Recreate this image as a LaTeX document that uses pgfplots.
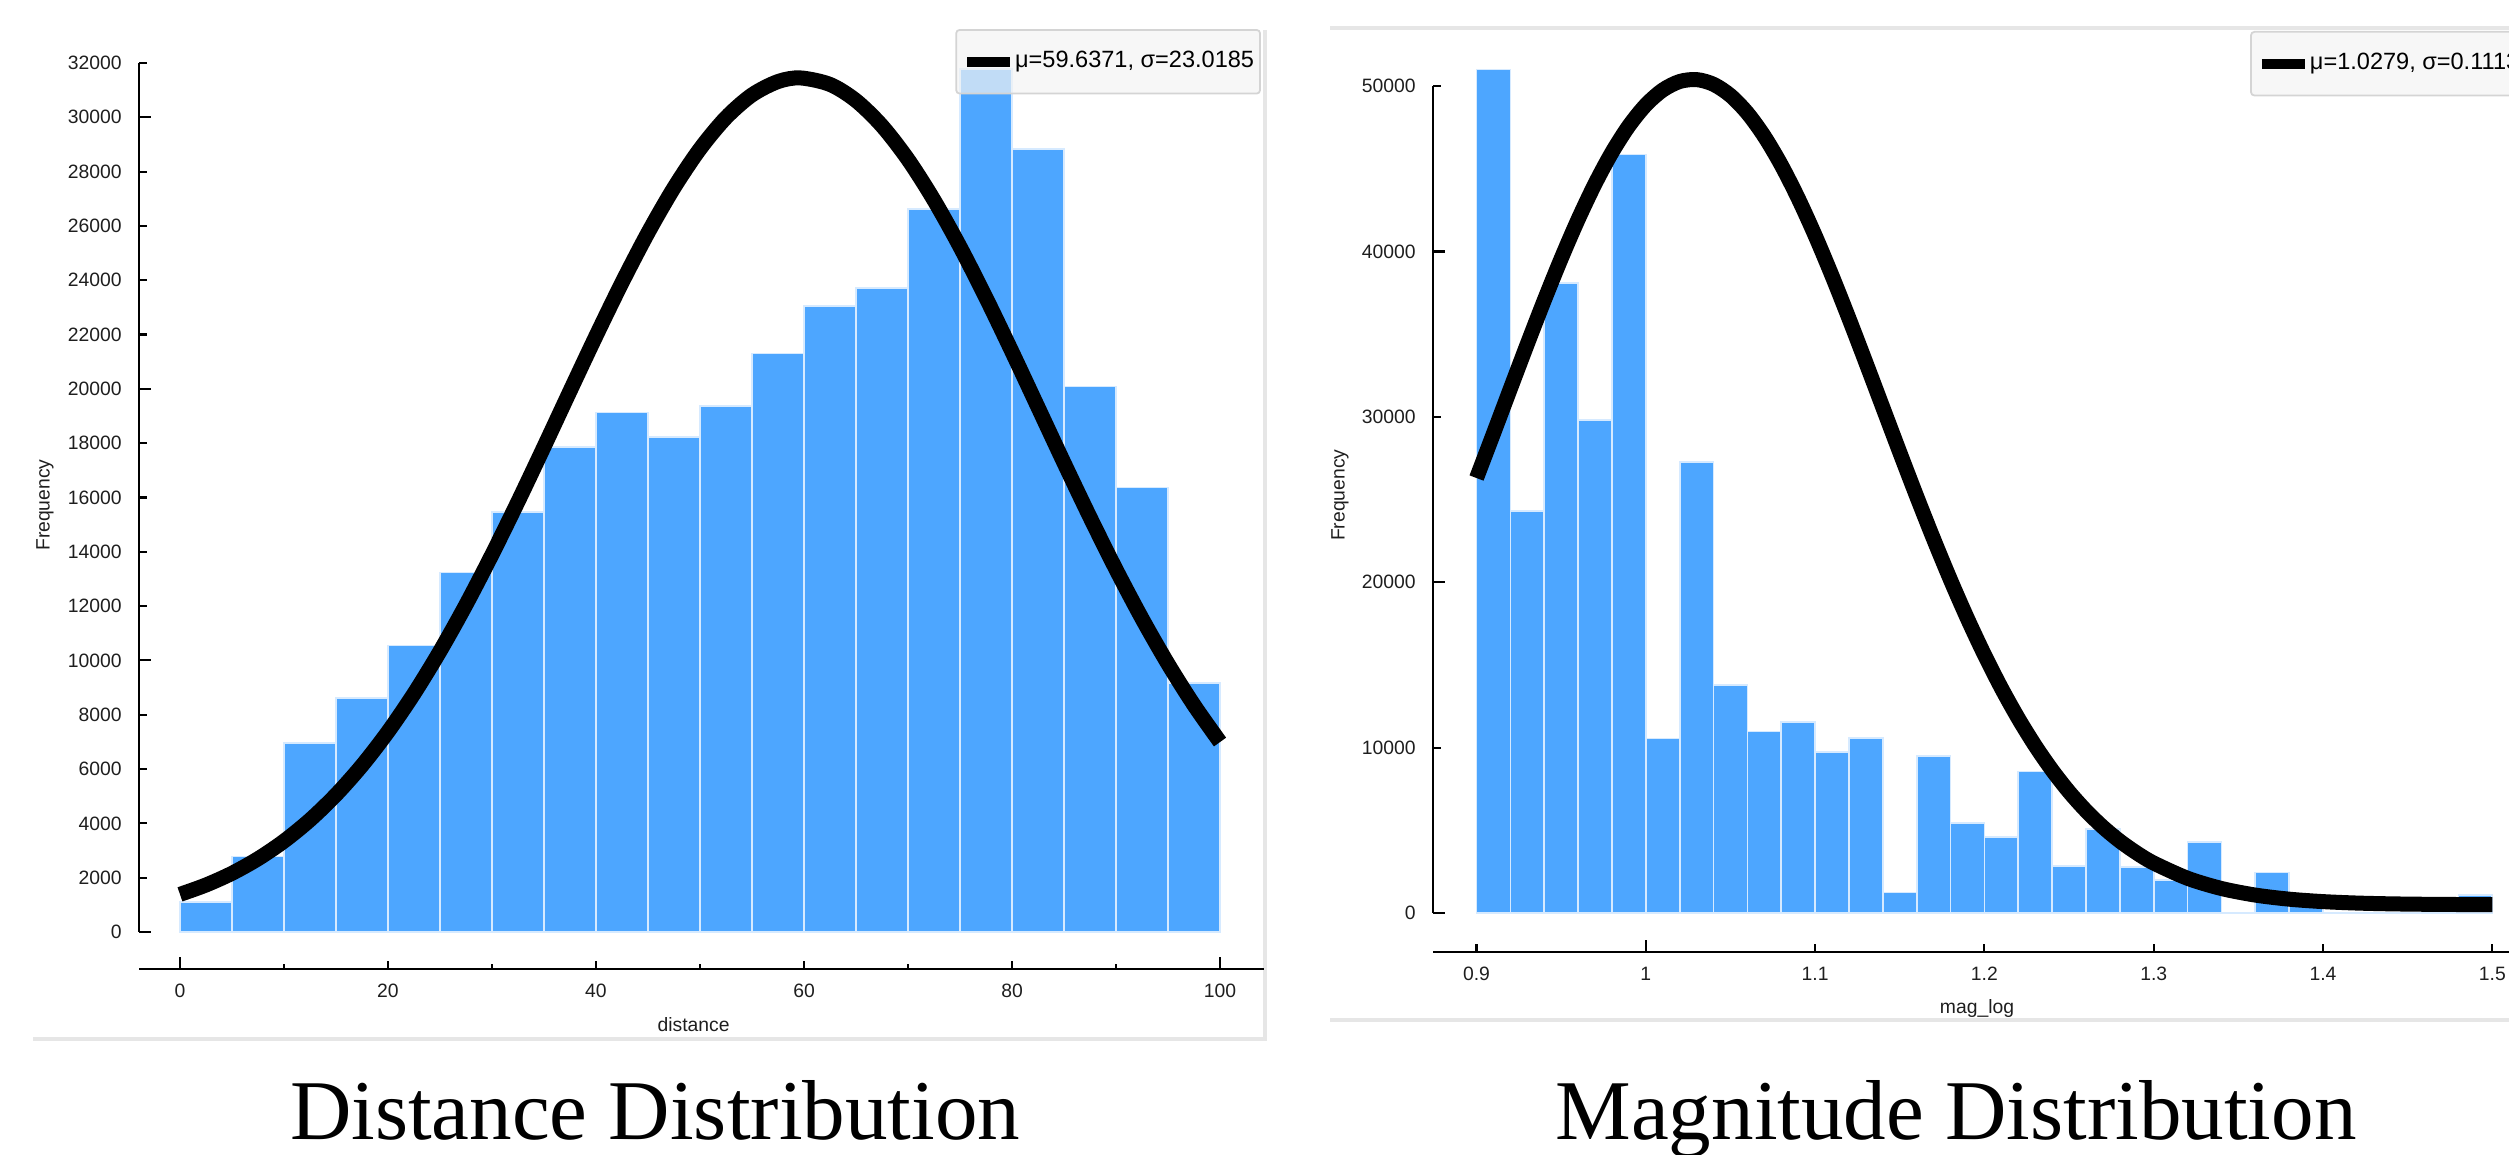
\documentclass[border=0pt]{standalone}
\usepackage{pgfplots}
\pgfplotsset{compat=1.18}
\usepackage{fontspec}
\setmainfont{Liberation Sans}
\newfontfamily\capfont{Liberation Serif}
\definecolor{barblue}{HTML}{4DA6FF}
\definecolor{baredge}{HTML}{D6EAFF}
\definecolor{framegray}{HTML}{E6E6E6}
\definecolor{legfill}{HTML}{F3F3F3}
\definecolor{legdraw}{HTML}{D4D4D4}
\definecolor{ticktext}{HTML}{1E1E1E}
\pgfplotsset{
  qtstyle/.style={
    scale only axis,
    axis x line*=bottom, axis y line*=left,
    x axis line style={-, line width=0.6pt},
    y axis line style={-, line width=0.6pt},
    tick align=inside,
    tick style={black, line width=0.6pt},
    major tick length=0.08cm, minor tick length=0.045cm,
    extra tick style={major tick length=0.12cm},
    scaled ticks=false,
    /pgf/number format/assume math mode=true,
    /pgf/number format/1000 sep={},
    ticklabel style={font=\fontsize{5.5}{6.5}\selectfont, text=ticktext},
    yticklabel style={xshift=-0.05cm},
    xticklabel style={yshift=-0.03cm},
    legend cell align=left,
    legend image code/.code={\draw[line width=0.1cm, black] (0cm,0cm) -- (0.43cm,0cm);},
    legend style={fill=legfill, fill opacity=0.7, text opacity=1, draw=legdraw, draw opacity=1,
      line width=0.5pt, rounded corners=1pt, inner xsep=0.06cm, inner ysep=0.21cm,
      nodes={inner sep=0pt},
      font=\fontsize{6.7}{8}\selectfont, /tikz/every even column/.style={column sep=0pt}},
  }
}
\begin{document}
\begin{tikzpicture}
\useasboundingbox (0,0) rectangle (25.09,11.55);
% panel frames
\draw[framegray, line width=0.035cm] (0.33,1.16) -- (12.65,1.16) -- (12.65,11.25);
\draw[framegray, line width=0.035cm] (13.30,11.27) -- (25.20,11.27);
\draw[framegray, line width=0.035cm] (13.30,1.35) -- (25.20,1.35);

\begin{axis}[qtstyle, at={(1.39cm,1.86cm)}, anchor=south west,
  width=11.25cm, height=9.06cm,
  xmin=-3.94, xmax=104.23, ymin=-1362, ymax=32000,
  xtick={0,20,...,100}, minor xtick={10,30,...,90},
  ytick={0,2000,...,32000},
  extra x ticks={0,100}, extra x tick labels={},
  extra y ticks={0,10000,20000,30000}, extra y tick labels={},
  y axis line style={shorten <=0.37cm},
  xlabel={distance}, ylabel={Frequency},
  every axis x label/.style={at={(axis description cs:0.493,-0.0618)}, anchor=center, font=\fontsize{5.5}{6.5}\selectfont, text=ticktext},
  every axis y label/.style={at={(axis description cs:-0.0836,0.512)}, rotate=90, anchor=center, font=\fontsize{5.5}{6.5}\selectfont, text=ticktext},
  legend style={at={(0.9973,1.0375)}, anchor=north east},
]
\addplot[ybar interval, fill=barblue, draw=baredge, line width=0.5pt, forget plot] coordinates {
  (0,1114) (5,2778) (10,6946) (15,8611) (20,10550) (25,13237) (30,15465) (35,17850)
  (40,19130) (45,18220) (50,19374) (55,21300) (60,23043) (65,23706) (70,26613)
  (75,31780) (80,28834) (85,20086) (90,16368) (95,9174) (100,9174)};
\addplot[smooth, black, line width=0.15cm] coordinates {
  (0,1386) (2.5,1731) (5,2162) (7.5,2696) (10,3346) (12.5,4127) (15,5053) (17.5,6132)
  (20,7373) (22.5,8777) (25,10341) (27.5,12053) (30,13899) (32.5,15847) (35,17866)
  (37.5,19917) (40,21948) (42.5,23911) (45,25748) (47.5,27407) (50,28836) (52.5,29988)
  (55,30824) (57.5,31316) (59.64,31450) (62.5,31210) (65,30616) (67.5,29684) (70,28448)
  (72.5,26947) (75,25231) (77.5,23351) (80,21364) (82.5,19321) (85,17275) (87.5,15273)
  (90,13351) (92.5,11542) (95,9871) (97.5,8353) (100,6995)};
\addlegendentry{μ=59.6371, σ=23.0185\hspace{0.16cm}}
\end{axis}

\begin{axis}[qtstyle, at={(14.33cm,2.03cm)}, anchor=south west,
  width=11.016cm, height=8.99cm,
  xmin=0.8743, xmax=1.525, ymin=-2358, ymax=52000,
  xtick={0.9,1,1.1,1.2,1.3,1.4,1.5},
  ytick={0,10000,...,50000},
  extra x ticks={1}, extra x tick labels={},
  extra y ticks={0,20000,40000}, extra y tick labels={},
  y axis line style={shorten <=0.39cm, shorten >=0.33cm},
  xlabel={mag\_log}, ylabel={Frequency},
  every axis x label/.style={at={(axis description cs:0.4938,-0.0623)}, anchor=center, font=\fontsize{5.5}{6.5}\selectfont, text=ticktext},
  every axis y label/.style={at={(axis description cs:-0.0844,0.508)}, rotate=90, anchor=center, font=\fontsize{5.5}{6.5}\selectfont, text=ticktext},
  legend style={at={(0.7417,1.0245)}, anchor=north west},
]
\addplot[ybar interval, fill=barblue, draw=baredge, line width=0.5pt, forget plot] coordinates {
  (0.90,51000) (0.92,24300) (0.94,38070) (0.96,29800) (0.98,45860) (1.00,10550)
  (1.02,27250) (1.04,13800) (1.06,10970) (1.08,11540) (1.10,9720) (1.12,10570)
  (1.14,1240) (1.16,9510) (1.18,5440) (1.20,4600) (1.22,8560) (1.24,2860)
  (1.26,5100) (1.28,2800) (1.30,2000) (1.32,4300) (1.34,0) (1.36,2450)
  (1.38,500) (1.40,0) (1.42,0) (1.44,0) (1.46,0) (1.48,1100) (1.50,1100)};
\addplot[smooth, black, line width=0.15cm] coordinates {
  (0.90,26300) (0.91,28988) (0.92,31704) (0.93,34403) (0.94,37041) (0.95,39568)
  (0.96,41934) (0.97,44090) (0.98,45990) (0.99,47592) (1.00,48858) (1.01,49759)
  (1.02,50275) (1.03,50391) (1.04,50106) (1.05,49427) (1.06,48369) (1.07,46958)
  (1.08,45226) (1.09,43213) (1.10,40963) (1.11,38525) (1.12,35944) (1.13,33274)
  (1.14,30563) (1.15,27853) (1.16,25188) (1.17,22605) (1.18,20131) (1.19,17795)
  (1.20,15615) (1.21,13603) (1.22,11768) (1.23,10112) (1.24,8634) (1.25,7327)
  (1.26,6185) (1.27,5195) (1.28,4347) (1.29,3627) (1.30,3020) (1.32,2099) (1.34,1482)
  (1.36,1084) (1.38,836) (1.40,688) (1.42,601) (1.44,553) (1.46,527) (1.48,513) (1.50,506)};
\addlegendentry{μ=1.0279, σ=0.11135\hspace{0.16cm}}
\end{axis}

\node[font=\capfont\fontsize{24.2}{28}\selectfont, anchor=base] at (6.55,0.15) {Distance Distribution};
\node[font=\capfont\fontsize{24.2}{28}\selectfont, anchor=base] at (19.56,0.15) {Magnitude Distribution};
\end{tikzpicture}
\end{document}
